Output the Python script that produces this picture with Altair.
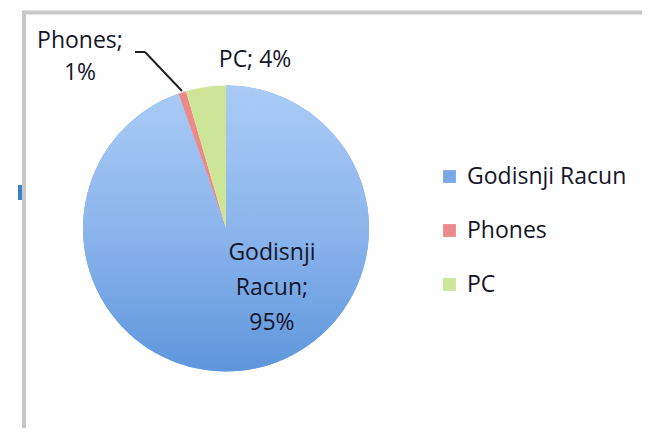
import altair as alt
import pandas as pd

categories = ["Godisnji Racun", "Phones", "PC"]
values = [94.6, 0.9, 4.5]
labels = ["Godisnji\nRacun;\n95%", "Phones;\n1%", "PC; 4%"]
colors = ["#79a8e6", "#ec8a8a", "#cde597"]

df = pd.DataFrame({"category": categories, "value": values, "label": labels})
df["order"] = range(len(df))
df["end"] = df["value"].cumsum()
df["start"] = df["end"] - df["value"]
df["mid"] = (df["start"] + df["end"]) / 2

CX, CY, R = 218, 220.5, 143
FONT = "Open Sans"
FS = 23
TXT = "#15152a"

theta_scale = alt.Scale(domain=[0, 100])
base = alt.Chart(df)

arcs = base.mark_arc(outerRadius=R).encode(
    theta=alt.Theta("start:Q", scale=theta_scale),
    theta2="end:Q",
    color=alt.Color(
        "category:N",
        sort=categories,
        scale=alt.Scale(domain=categories, range=colors),
        legend=alt.Legend(
            title=None,
            orient="none",
            legendX=430,
            legendY=157,
            symbolType="square",
            symbolSize=165,
            symbolStrokeWidth=0,
            labelFont=FONT,
            labelFontSize=FS,
            labelColor=TXT,
            labelOffset=6,
            rowPadding=30,
            labelLimit=300,
        ),
    ),
    x=alt.value(CX),
    y=alt.value(CY),
)

blue = base.transform_filter(alt.datum.category == "Godisnji Racun").mark_arc(
    outerRadius=R,
    fill=alt.LinearGradient(
        gradient="linear",
        stops=[
            alt.GradientStop(color="#aacbf6", offset=0),
            alt.GradientStop(color="#8cb5ec", offset=0.5),
            alt.GradientStop(color="#5e96dc", offset=1),
        ],
        x1=0, x2=0, y1=0, y2=1,
    ),
).encode(
    theta=alt.Theta("start:Q", scale=theta_scale),
    theta2="end:Q",
    x=alt.value(CX),
    y=alt.value(CY),
)


def label_layer(cat, radius, dx, dy, line_height):
    return base.transform_filter(alt.datum.category == cat).mark_text(
        radius=radius, dx=dx, dy=dy, font=FONT, fontSize=FS, color=TXT,
        align="center", baseline="middle", lineBreak="\n", lineHeight=line_height,
    ).encode(
        theta=alt.Theta("mid:Q", scale=theta_scale),
        text="label:N",
        x=alt.value(CX),
        y=alt.value(CY),
    )


lab_g = label_layer("Godisnji Racun", 59, 36, -34, 35)
lab_p = label_layer("Phones", 170, -94, -26, 32)
lab_pc = label_layer("PC", 170, 53, 0, 32)

leader1 = base.transform_filter(alt.datum.category == "Phones").mark_rule(
    color="#222222", strokeWidth=2
).encode(x=alt.value(127), x2=alt.value(137), y=alt.value(44), y2=alt.value(44))
leader2 = base.transform_filter(alt.datum.category == "Phones").mark_rule(
    color="#222222", strokeWidth=2
).encode(x=alt.value(137), x2=alt.value(174), y=alt.value(44), y2=alt.value(83))

frame_top = base.transform_filter(alt.datum.category == "PC").mark_rule(
    color="#c8c8c8", strokeWidth=4
).encode(x=alt.value(14), x2=alt.value(634), y=alt.value(4.5), y2=alt.value(4.5))
frame_left = base.transform_filter(alt.datum.category == "PC").mark_rule(
    color="#c8c8c8", strokeWidth=4
).encode(x=alt.value(16), x2=alt.value(16), y=alt.value(3), y2=alt.value(420))
handle = base.transform_filter(alt.datum.category == "PC").mark_rule(
    color="#3a7fd0", strokeWidth=4
).encode(x=alt.value(12), x2=alt.value(12), y=alt.value(177), y2=alt.value(192))

chart = alt.layer(
    frame_top, frame_left, handle, arcs, blue, leader1, leader2, lab_g, lab_p, lab_pc
).properties(
    width=634, height=420, autosize=alt.AutoSizeParams(type="none"), padding=0
).configure_view(stroke=None)

chart.save("out.html", embed_options={"renderer": "svg", "actions": False})
